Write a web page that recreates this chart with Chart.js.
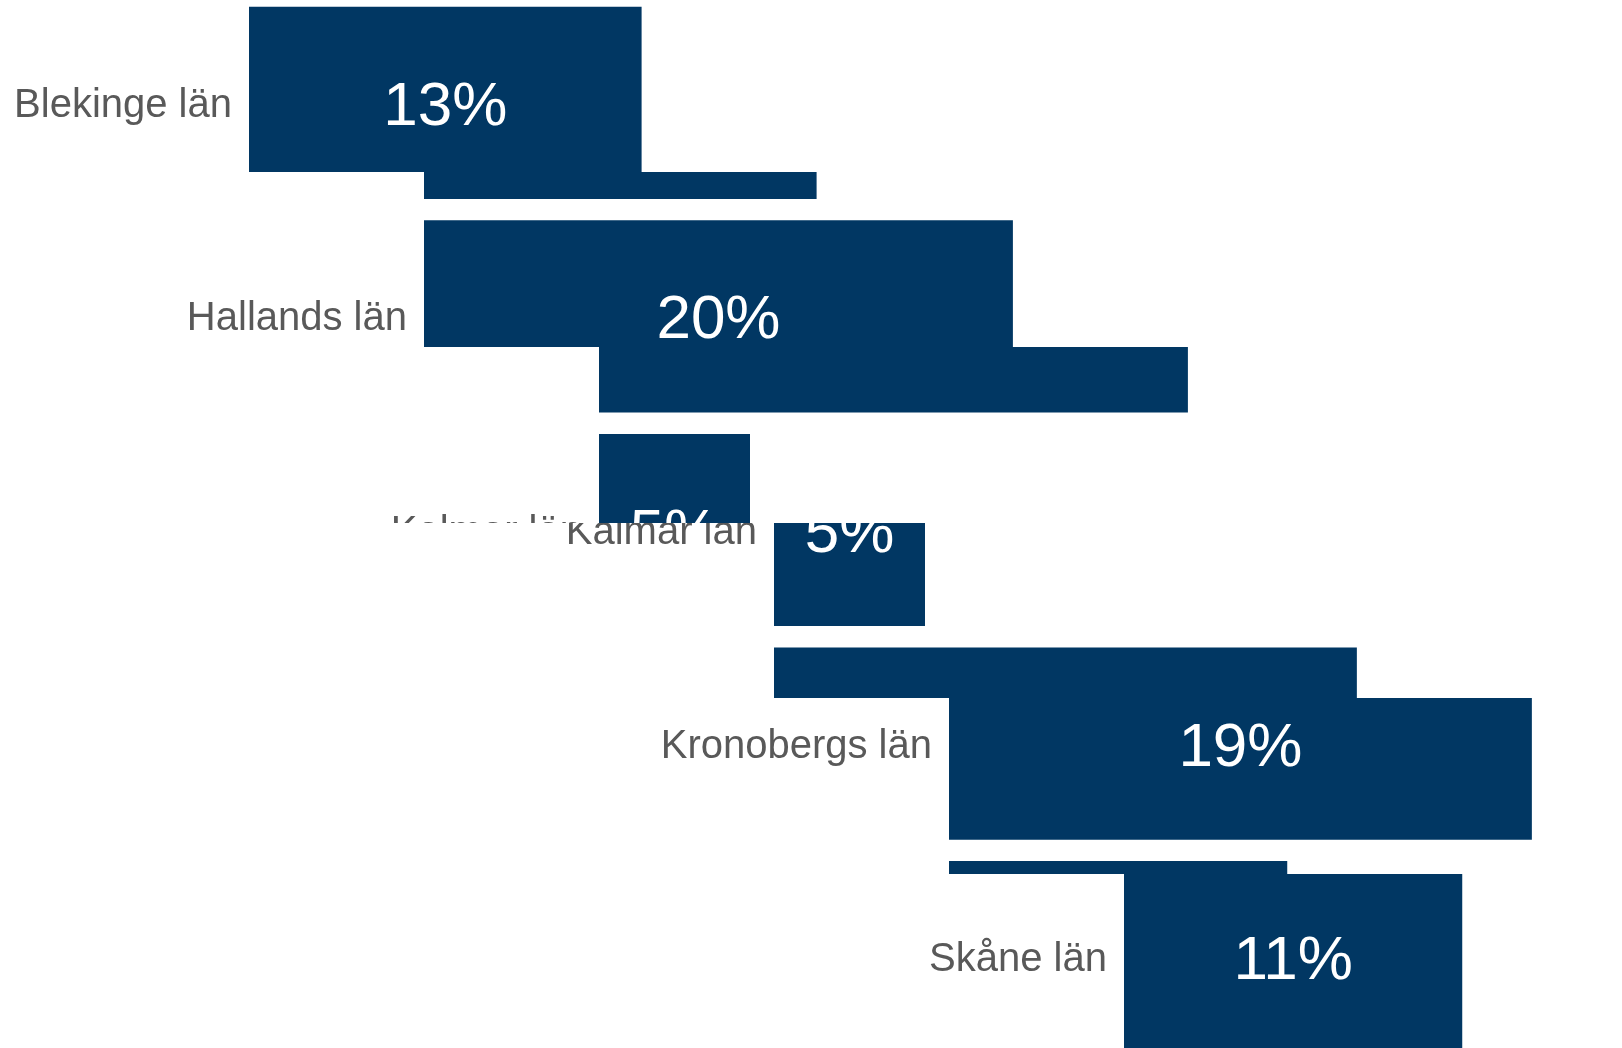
<!DOCTYPE html>
<html>
<head>
<meta charset="utf-8">
<script src="https://cdn.jsdelivr.net/npm/chart.js@4.4.1/dist/chart.umd.min.js"></script>
<style>
  html, body { margin: 0; padding: 0; background: #ffffff; }
  #stage { position: relative; width: 1622px; height: 1048px; overflow: hidden; background: #ffffff; }
  .band { position: absolute; left: 0; width: 1622px; overflow: hidden; }
  .holder { position: absolute; width: 1204px; height: 1068px; }
</style>
</head>
<body>
<div id="stage"></div>
<script>
// ---- data ----
const categories = ["Blekinge län", "Hallands län", "Kalmar län", "Kronobergs län", "Skåne län"];
const shares = [13.0, 19.5, 5.0, 19.3, 11.2];
const axisMin = 0;
const axisMax = 25;

// ---- layout (the picture is cut into horizontal strips, each shifted right) ----
const bandEdges = [0, 172, 347, 523, 698, 874, 1048];
const bandShift = 175;
const chartTop = -4;
const leftRoom = 200;

const barColor = '#013763';

const valueLabels = {
  id: 'valueLabels',
  afterDatasetsDraw(chart) {
    const ctx = chart.ctx;
    const meta = chart.getDatasetMeta(0);
    ctx.save();
    ctx.fillStyle = '#ffffff';
    ctx.font = '62px "Liberation Sans", Arial, sans-serif';
    ctx.textAlign = 'center';
    ctx.textBaseline = 'middle';
    meta.data.forEach((bar, i) => {
      const v = chart.data.datasets[0].data[i];
      ctx.fillText(Math.round(v) + '%', (bar.x + bar.base) / 2, bar.y + 5);
    });
    ctx.restore();
  }
};

const stage = document.getElementById('stage');
for (let k = 0; k < bandEdges.length - 1; k++) {
  const band = document.createElement('div');
  band.className = 'band';
  band.style.top = bandEdges[k] + 'px';
  band.style.height = (bandEdges[k + 1] - bandEdges[k]) + 'px';
  const holder = document.createElement('div');
  holder.className = 'holder';
  holder.style.top = (chartTop - bandEdges[k]) + 'px';
  holder.style.left = (bandShift * k - leftRoom) + 'px';
  const canvas = document.createElement('canvas');
  canvas.width = 1004 + leftRoom;
  canvas.height = 1068;
  holder.appendChild(canvas);
  band.appendChild(holder);
  stage.appendChild(band);

  new Chart(canvas, {
    type: 'bar',
    data: {
      labels: categories,
      datasets: [{
        data: shares,
        backgroundColor: barColor,
        borderWidth: 0,
        barPercentage: 0.9,
        categoryPercentage: 1.0
      }]
    },
    options: {
      indexAxis: 'y',
      responsive: false,
      animation: false,
      devicePixelRatio: 1,
      layout: { padding: 0 },
      plugins: { legend: { display: false }, tooltip: { enabled: false } },
      scales: {
        x: { display: false, min: axisMin, max: axisMax },
        y: {
          grid: { display: false, drawTicks: false },
          border: { display: false },
          ticks: {
            color: '#595959',
            padding: 17,
            labelOffset: 3,
            font: { family: '"Liberation Sans", Arial, sans-serif', size: 40 }
          },
          afterFit(scale) {
            scale.width = 249 + leftRoom;
            scale.paddingTop = 0;
            scale.paddingBottom = 0;
          }
        }
      }
    },
    plugins: [valueLabels]
  });
}
</script>
</body>
</html>
